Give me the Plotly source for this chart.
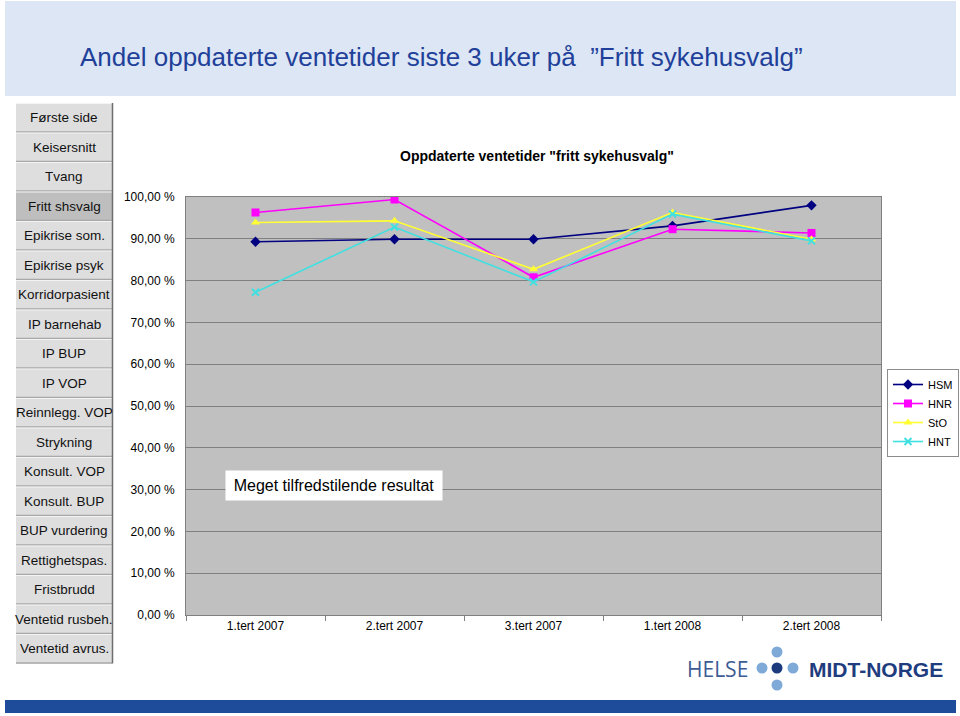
import plotly.graph_objects as go

W, H = 960, 716

categories = ["1.tert 2007", "2.tert 2007", "3.tert 2007", "1.tert 2008", "2.tert 2008"]
hsm = [89.3, 89.9, 89.9, 93.1, 98.0]
hnr = [96.3, 99.4, 80.8, 92.3, 91.4]
sto = [93.9, 94.3, 82.7, 96.3, 89.9]
hnt = [77.2, 92.8, 79.7, 95.9, 89.5]
series_names = ["HSM", "HNR", "StO", "HNT"]
y_tick_vals = [0, 10, 20, 30, 40, 50, 60, 70, 80, 90, 100]
y_tick_text = ["0,00 %", "10,00 %", "20,00 %", "30,00 %", "40,00 %", "50,00 %",
               "60,00 %", "70,00 %", "80,00 %", "90,00 %", "100,00 %"]
nav_items = ["Første side", "Keisersnitt", "Tvang", "Fritt shsvalg", "Epikrise som.",
             "Epikrise psyk", "Korridorpasient", "IP barnehab", "IP BUP", "IP VOP",
             "Reinnlegg. VOP", "Strykning", "Konsult. VOP", "Konsult. BUP", "BUP vurdering",
             "Rettighetspas.", "Fristbrudd", "Ventetid rusbeh.", "Ventetid avrus."]
active_nav = "Fritt shsvalg"


def px(x):
    return x / W


def py(y):
    return 1 - y / H


fig = go.Figure()

styles = [
    dict(color="#000080", symbol="diamond", size=8),
    dict(color="#FF00FF", symbol="square", size=8),
    dict(color="#FFFF33", symbol="triangle-up", size=8),
    dict(color="#40E0E0", symbol="x-thin", size=7),
]
for name, vals, st in zip(series_names, [hsm, hnr, sto, hnt], styles):
    marker = dict(symbol=st["symbol"], size=st["size"], color=st["color"])
    if st["symbol"] == "x-thin":
        marker["line"] = dict(color=st["color"], width=2)
    fig.add_trace(go.Scatter(
        x=categories, y=vals, name=name, mode="lines+markers",
        line=dict(color=st["color"], width=1.6), marker=marker,
    ))

shapes = []
annotations = []

# header band
shapes.append(dict(type="rect", xref="paper", yref="paper", x0=px(5), x1=px(956), y0=py(96), y1=py(1),
                   fillcolor="#DCE6F4", line=dict(width=0), layer="below"))
annotations.append(dict(text="Andel oppdaterte ventetider siste 3 uker på  \u201dFritt sykehusvalg\u201d",
                        xref="paper", yref="paper", x=px(441), y=py(57), showarrow=False,
                        xanchor="center", yanchor="middle",
                        font=dict(family="Liberation Sans, Arial", size=26, color="#21409A")))

# nav buttons
top, step = 103, 29.5
for i, item in enumerate(nav_items):
    y0 = top + i * step
    y1 = y0 + step
    fill = "#BEBEBE" if item == active_nav else "#DEDEDE"
    shapes.append(dict(type="rect", xref="paper", yref="paper", x0=px(16), x1=px(112),
                       y0=py(y1), y1=py(y0), fillcolor=fill, line=dict(width=0), layer="below"))
    shapes.append(dict(type="line", xref="paper", yref="paper", x0=px(16), x1=px(112),
                       y0=py(y1 - 0.5), y1=py(y1 - 0.5), line=dict(color="#A8A8A8", width=1.5)))
    shapes.append(dict(type="line", xref="paper", yref="paper", x0=px(16), x1=px(112),
                       y0=py(y0 + 0.5), y1=py(y0 + 0.5), line=dict(color="#F4F4F4", width=1)))
    annotations.append(dict(text=item, xref="paper", yref="paper", x=px(64), y=py(y0 + step / 2),
                            showarrow=False, xanchor="center", yanchor="middle",
                            font=dict(family="Liberation Sans, Arial", size=13.5, color="#111111")))
shapes.append(dict(type="line", xref="paper", yref="paper", x0=px(112.5), x1=px(112.5),
                   y0=py(top + step * len(nav_items)), y1=py(top), line=dict(color="#6E6E6E", width=1.5)))

# chart title
annotations.append(dict(text="<b>Oppdaterte ventetider \"fritt sykehusvalg\"</b>", xref="paper", yref="paper",
                        x=px(537), y=py(156), showarrow=False, xanchor="center", yanchor="middle",
                        font=dict(family="Liberation Sans, Arial", size=14, color="#000000")))

# text box
annotations.append(dict(text="Meget tilfredstilende resultat", xref="paper", yref="paper",
                        x=px(334), y=py(485), showarrow=False, xanchor="center", yanchor="middle",
                        bgcolor="#FFFFFF", borderpad=5, width=206, height=19,
                        font=dict(family="Liberation Sans, Arial", size=16, color="#000000")))

# logo
annotations.append(dict(text="HELSE", xref="paper", yref="paper", x=px(685), y=py(669), showarrow=False,
                        xanchor="left", yanchor="middle",
                        font=dict(family="Open Sans, Liberation Sans", size=21, color="#3D5C94")))
annotations.append(dict(text="<b>MIDT-NORGE</b>", xref="paper", yref="paper", x=px(807), y=py(669),
                        showarrow=False, xanchor="left", yanchor="middle",
                        font=dict(family="Liberation Sans, Arial", size=21, color="#1F3C7E")))
for (cx, cy, col) in [(777, 652, "#7FAAD8"), (762, 668, "#7FAAD8"), (793, 668, "#7FAAD8"),
                      (777, 685, "#7FAAD8"), (777, 668, "#1E3A7E")]:
    r = 5.5
    shapes.append(dict(type="circle", xref="paper", yref="paper", x0=px(cx - r), x1=px(cx + r),
                       y0=py(cy + r), y1=py(cy - r), fillcolor=col, line=dict(width=0)))

# bottom bar
shapes.append(dict(type="rect", xref="paper", yref="paper", x0=px(5), x1=px(956), y0=py(713), y1=py(700),
                   fillcolor="#1F4B9B", line=dict(width=0)))

fig.update_layout(
    width=W, height=H, margin=dict(l=0, r=0, t=0, b=0, pad=0, autoexpand=False),
    paper_bgcolor="#FFFFFF", plot_bgcolor="#C0C0C0",
    font=dict(family="Liberation Sans, Arial", size=12, color="#000000"),
    shapes=shapes, annotations=annotations,
    legend=dict(x=px(887), y=py(369), xanchor="left", yanchor="top",
                bgcolor="#FFFFFF", bordercolor="#8C8C8C", borderwidth=1,
                font=dict(size=11), itemwidth=30, tracegroupgap=0),
    xaxis=dict(domain=[px(186), px(881)], range=[-0.5, 4.5], type="category",
               showgrid=False, showline=True, linecolor="#808080", linewidth=1, mirror=True,
               ticks="outside", tickson="boundaries", ticklen=5, tickcolor="#808080",
               tickfont=dict(size=12), zeroline=False),
    yaxis=dict(domain=[py(615), py(197)], range=[0, 100], tickvals=y_tick_vals, ticktext=y_tick_text,
               showgrid=True, gridcolor="#808080", gridwidth=1, showline=True, linecolor="#808080",
               mirror=True, ticks="", ticklabelstandoff=8, tickfont=dict(size=12), zeroline=False),
)

fig.write_html("out.html")
